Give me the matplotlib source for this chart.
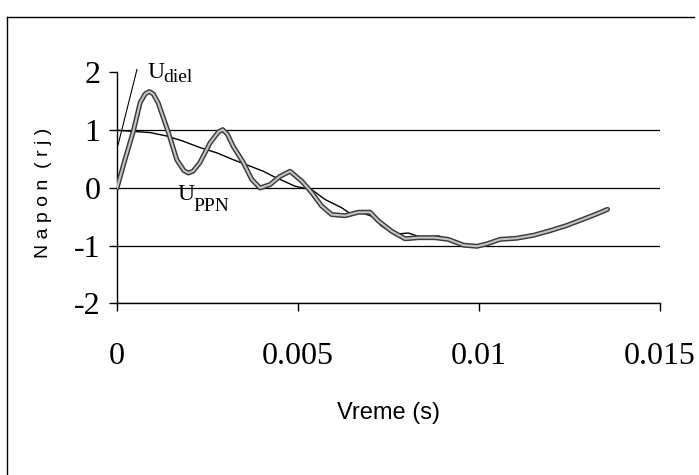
import matplotlib
matplotlib.use("Agg")
import matplotlib.pyplot as plt
import matplotlib.transforms as mtransforms

# time in seconds, voltage in relative units
t_ppn = [0.0, 0.00022, 0.00045, 0.00064, 0.00078, 0.00089, 0.00100, 0.00114, 0.00142, 0.00165,
         0.00185, 0.00197, 0.00210, 0.00229, 0.00257, 0.00280, 0.00292, 0.00305, 0.00321, 0.00349,
         0.00372, 0.00395, 0.00423, 0.00450, 0.00478, 0.00510, 0.00538, 0.00565, 0.00593,
         0.00630, 0.00667, 0.00699, 0.00722, 0.00759, 0.00796, 0.00833, 0.00878, 0.00915,
         0.00957, 0.00994, 0.01021, 0.01058, 0.01104, 0.01150, 0.01196, 0.01242, 0.01288,
         0.01325, 0.01355]
u_ppn = [0.0, 0.49, 0.98, 1.48, 1.63, 1.67, 1.63, 1.47, 0.96, 0.49,
         0.30, 0.26, 0.29, 0.44, 0.78, 0.97, 1.01, 0.93, 0.72, 0.44,
         0.15, 0.0, 0.06, 0.20, 0.29, 0.12, -0.08, -0.31, -0.46,
         -0.48, -0.42, -0.42, -0.57, -0.75, -0.88, -0.86, -0.86, -0.89,
         -0.99, -1.01, -0.97, -0.89, -0.87, -0.82, -0.74, -0.65, -0.54,
         -0.45, -0.37]

t_diel = [0.0, 0.00045, 0.00091, 0.00137, 0.00183, 0.00229, 0.00275, 0.00321, 0.00367,
          0.00404, 0.00432, 0.00492, 0.00538, 0.00575, 0.00620, 0.00648, 0.00676, 0.00704,
          0.00731, 0.00768, 0.00805, 0.00842, 0.00888, 0.00915, 0.00957, 0.00994, 0.01021,
          0.01058, 0.01104, 0.01150, 0.01196, 0.01242, 0.01288, 0.01325, 0.01355]
u_diel = [1.0, 0.98, 0.96, 0.90, 0.81, 0.70, 0.61, 0.49, 0.38,
          0.29, 0.20, 0.03, -0.03, -0.20, -0.34, -0.46, -0.43, -0.49,
          -0.66, -0.80, -0.78, -0.86, -0.83, -0.89, -1.0, -1.02, -0.98,
          -0.89, -0.88, -0.83, -0.75, -0.66, -0.55, -0.46, -0.38]

x_ticks = [0, 0.005, 0.01, 0.015]
x_labels = ["0", "0.005", "0.01", "0.015"]
y_ticks = [-2, -1, 0, 1, 2]
y_labels = ["-2", "-1", "0", "1", "2"]

serif = ["Liberation Serif", "DejaVu Serif"]

fig = plt.figure(figsize=(6.99, 4.75), dpi=100)
ax = fig.add_axes([0.1674, 0.3611, 0.7768, 0.4863])

ax.plot(t_diel, u_diel, color="black", lw=1.0, zorder=3)
ax.plot(t_ppn, u_ppn, color="#3a3a3a", lw=3.6, zorder=4,
        solid_capstyle="round", solid_joinstyle="round")
ax.plot(t_ppn, u_ppn, color="#c4c4c4", lw=1.5, zorder=5,
        solid_capstyle="round", solid_joinstyle="round")

ax.set_xlim(0, 0.015)
ax.set_ylim(-2, 2)
ax.set_xticks(x_ticks)
ax.set_xticklabels(x_labels, family=serif, fontsize=23)
ax.set_yticks(y_ticks)
ax.set_yticklabels(y_labels, family=serif, fontsize=23)
ax.tick_params(axis="x", direction="out", length=6, width=1, pad=22)
ax.tick_params(axis="y", direction="out", length=6, width=1, pad=6)

ax.grid(axis="y", color="black", lw=0.9)
ax.get_ygridlines()[-1].set_visible(False)
ax.set_axisbelow(True)
for side in ["top", "right"]:
    ax.spines[side].set_visible(False)
for side in ["left", "bottom"]:
    ax.spines[side].set_linewidth(1.0)

ax.set_xlabel("Vreme (s)", family=["Liberation Sans Narrow", "Liberation Sans"], fontsize=17)
ax.xaxis.set_label_coords(0.5, -0.475)
ax.xaxis.label.set_va("center")
ax.set_ylabel("N a p o n  ( r j )", family=["Liberation Sans", "DejaVu Sans"], fontsize=14)
ax.yaxis.set_label_coords(-0.135, 0.48)
ax.yaxis.label.set_va("center")

# curve labels
ax.text(0.00083, 1.91, "U", family=serif, fontsize=17, ha="left", va="baseline")
sub = mtransforms.offset_copy(ax.transData, fig=fig, x=11.5, y=-3, units="points")
ax.text(0.00083, 1.91, "diel", family=serif, fontsize=14, ha="left", va="baseline", transform=sub)
ax.plot([0.00055, 0.00003], [2.05, 0.75], color="black", lw=0.8, clip_on=False)

ax.text(0.00166, -0.2, "U", family=serif, fontsize=17, ha="left", va="baseline")
sub2 = mtransforms.offset_copy(ax.transData, fig=fig, x=11.5, y=-8.5, units="points")
ax.text(0.00166, -0.2, "PPN", family=serif, fontsize=14, ha="left", va="baseline", transform=sub2)

# frame of the original chart area
fig.add_artist(plt.Line2D([7 / 699, 7 / 699], [0, 1 - 17 / 475], color="black", lw=1.0))
fig.add_artist(plt.Line2D([7 / 699, 694 / 699], [1 - 17 / 475, 1 - 17 / 475], color="black", lw=1.0))

fig.savefig("out.png", dpi=100)
